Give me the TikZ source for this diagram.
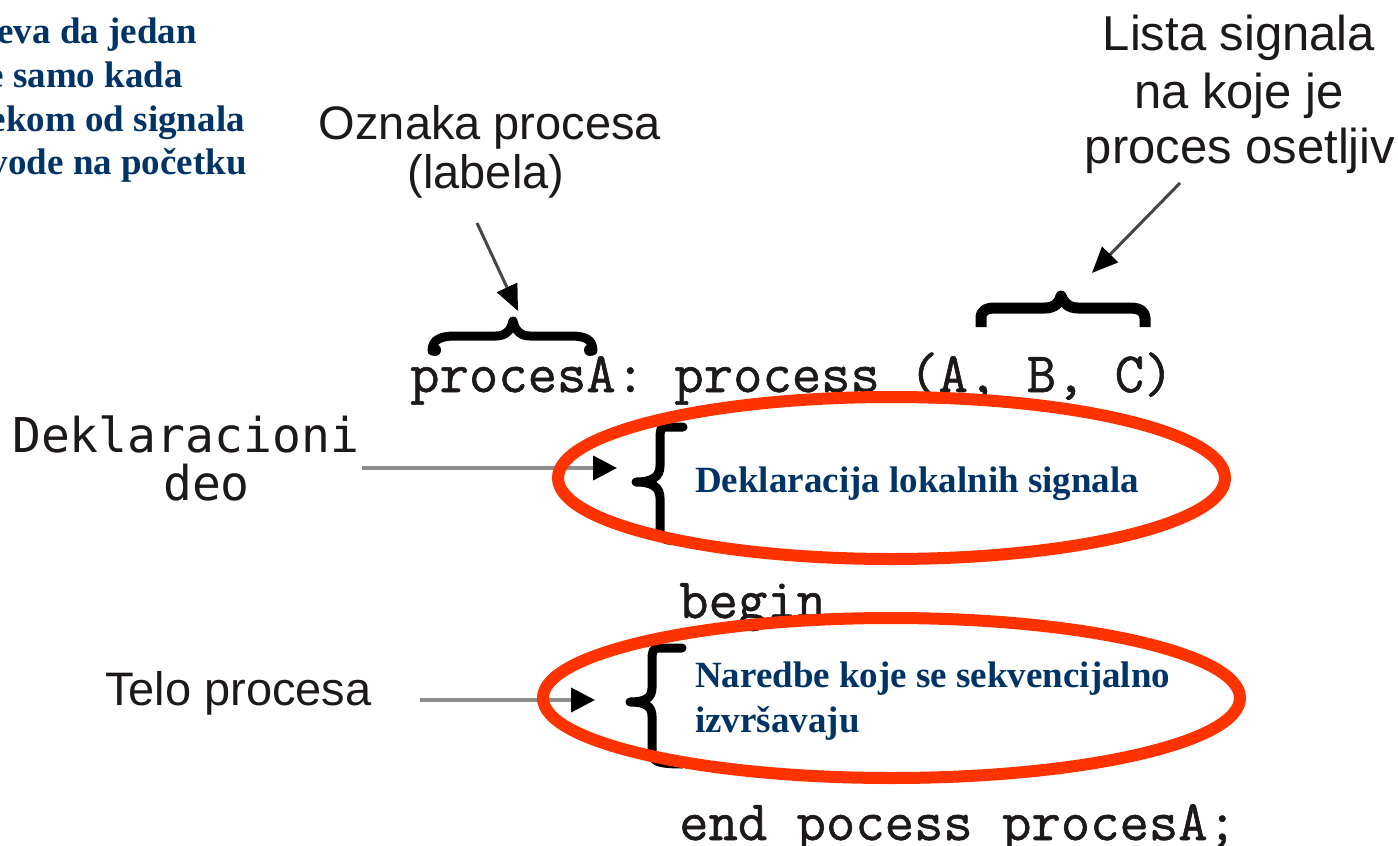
\documentclass[tikz,border=0pt]{standalone}
\usepackage{fontspec}
\setmainfont{Liberation Serif}
\setmonofont{Latin Modern Mono}[FakeBold=1.0]
\newfontfamily\arialf{Liberation Sans}
\newfontfamily\dvmf{DejaVu Sans Mono}
\usetikzlibrary{arrows.meta}
\definecolor{navy}{RGB}{0,51,102}
\definecolor{redo}{RGB}{255,51,0}
\definecolor{ink}{RGB}{30,25,25}
\definecolor{lgray}{RGB}{140,140,140}
\definecolor{dgray}{RGB}{70,70,70}
\begin{document}
\begin{tikzpicture}[x=1pt,y=-1pt,
  bluetxt/.style={inner sep=0pt, text=navy, font=\fontsize{37}{45}\selectfont\bfseries},
  sanstxt/.style={inner sep=0pt, text=ink, font=\arialf\fontsize{48}{56}\selectfont},
  codetxt/.style={inner sep=0pt, text=ink, font=\ttfamily\fontsize{57}{60}\selectfont},
  monotxt/.style={inner sep=0pt, text=ink, font=\dvmf\fontsize{48}{56}\selectfont},
  redell/.style={draw=redo, line width=12pt},
  brc/.style={draw=black, line width=8pt, line cap=round, line join=round},
  grayarrow/.style={draw=lgray, line width=4pt, -{Triangle[length=24pt,width=24pt,color=black]}},
  darkarrow/.style={draw=dgray, line width=3pt, -{Triangle[length=26pt,width=22pt,color=black]}},
]
\useasboundingbox (0,0) rectangle (1398,846);
\clip (0,0) rectangle (1398,846);

% top-left clipped blue text
\node[bluetxt, anchor=base east] (t1) at (197,43) {eva da jedan};
\node[bluetxt, anchor=base east] (t2) at (183,87) {e samo kada};
\node[bluetxt, anchor=base east] (t3) at (245,131) {ekom od signala};
\node[bluetxt, anchor=base east] (t4) at (247,174) {vode na početku};

% labels
\node[sanstxt, font=\arialf\fontsize{47}{56}\selectfont, anchor=base] (oz1) at (490,139) {Oznaka procesa};
\node[sanstxt, font=\arialf\fontsize{47}{56}\selectfont, anchor=base] (oz2) at (486,188) {(labela)};
\node[sanstxt, font=\arialf\fontsize{49}{56}\selectfont, anchor=base] (ls1) at (1239,50) {Lista signala};
\node[sanstxt, font=\arialf\fontsize{49}{56}\selectfont, anchor=base] (ls2) at (1239,108) {na koje je};
\node[sanstxt, font=\arialf\fontsize{49}{56}\selectfont, anchor=base] (ls3) at (1240,163) {proces osetljiv};
\node[sanstxt, font=\arialf\fontsize{47}{56}\selectfont, anchor=base west] (telo) at (105,705) {Telo procesa};
\node[monotxt, anchor=base west] (dek1) at (12,452) {Deklaracioni};
\node[monotxt, anchor=base west] (dek2) at (163,500) {deo};

% code
\node[codetxt, anchor=base west] (c1) at (410,392) {procesA: process (A, B, C)};
\node[codetxt, anchor=base west] (c2) at (679,618) {begin};
\node[codetxt, anchor=base west] (c3) at (679,840) {end pocess procesA;};

% blue texts inside ellipses
\node[bluetxt, anchor=base west] (b1) at (695,492) {Deklaracija lokalnih signala};
\node[bluetxt, anchor=base west] (b2) at (695,687) {Naredbe koje se sekvencijalno};
\node[bluetxt, anchor=base west] (b3) at (695,732) {izvršavaju};

% braces
\draw[brc, line width=9pt] (432,351) .. controls (432,340) and (440,336) .. (455,336) -- (496,336)
  .. controls (506,336) and (511,330) .. (513,321) .. controls (515,330) and (520,336) .. (530,336)
  -- (571,336) .. controls (586,336) and (593,340) .. (593,351);
\fill (435,350) circle (6);
\fill (590,350) circle (6);
\draw[brc, line width=11pt, line cap=butt] (981,327) -- (981,318) .. controls (981,311) and (986,308) .. (995,308)
  -- (1045,308) .. controls (1055,308) and (1060,302) .. (1061,296)
  .. controls (1063,302) and (1068,308) .. (1078,308) -- (1130,308)
  .. controls (1140,308) and (1145,312) .. (1145,318) -- (1145,327);
\draw[brc, line width=9pt] (683,427) -- (664,427) .. controls (661,427) and (660,430) .. (660,440) -- (660,466)
  .. controls (660,477) and (652,482) .. (636,482) .. controls (652,482) and (660,487) .. (660,498)
  -- (660,530) .. controls (660,538) and (662,541) .. (683,541);
\draw[brc, line width=9pt] (682,648) -- (658,648) .. controls (653,648) and (652,652) .. (652,660) -- (652,688)
  .. controls (652,698) and (645,702) .. (630,702) .. controls (645,702) and (652,706) .. (652,716)
  -- (652,752) .. controls (652,760) and (655,764) .. (682,764);

% arrows
\coordinate (a1s) at (477,223);
\coordinate (a1e) at (518,311);
\coordinate (a2s) at (1180,183);
\coordinate (a2e) at (1092,273);
\coordinate (a3s) at (362,468);
\coordinate (a3e) at (617,468);
\coordinate (a4s) at (420,700);
\coordinate (a4e) at (595,700);
\draw[darkarrow] (a1s) -- (a1e);
\draw[darkarrow] (a2s) -- (a2e);
\draw[grayarrow] (a3s) -- (a3e);
\draw[grayarrow] (a4s) -- (a4e);

% red ellipses
\draw[redell] (891.5,478) ellipse [x radius=333.5, y radius=81];
\draw[redell] (891.5,698) ellipse [x radius=348.5, y radius=80];
\end{tikzpicture}
\end{document}
